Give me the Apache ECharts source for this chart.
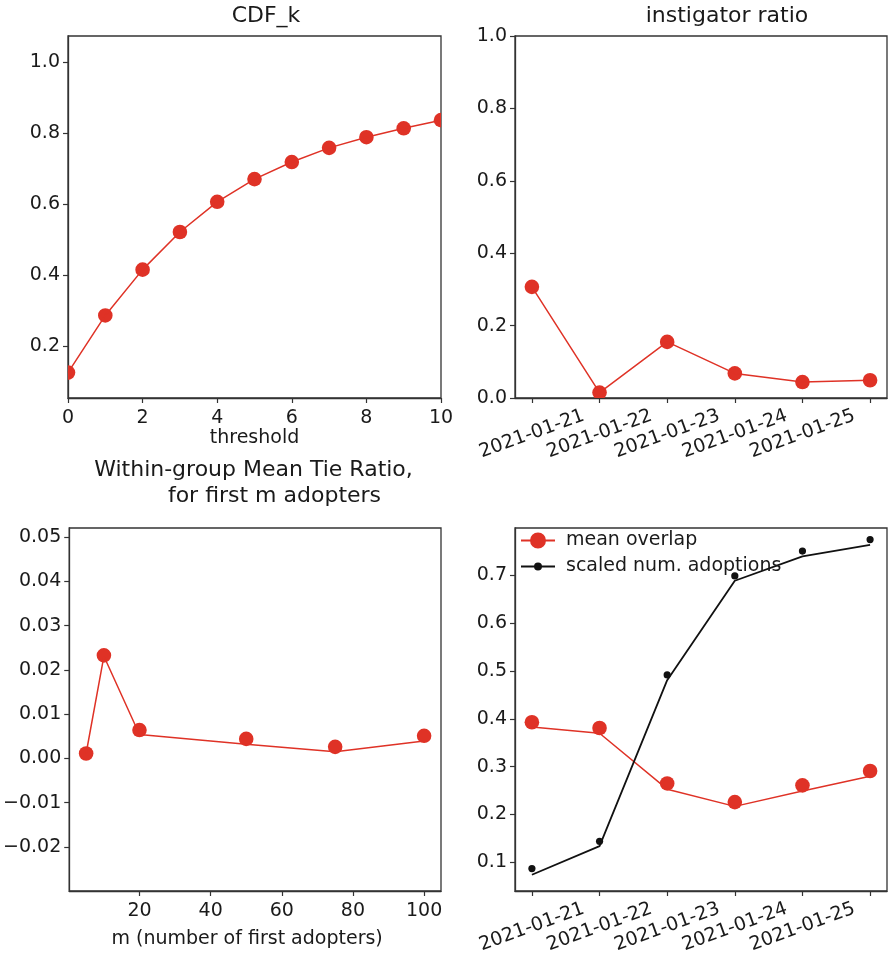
<!DOCTYPE html>
<html>
<head>
<meta charset="utf-8">
<script src="https://cdn.jsdelivr.net/npm/echarts@6/dist/echarts.min.js"></script>
<style>
  html, body { margin: 0; padding: 0; background: #fff; }
  #chart { width: 888px; height: 957px; }
</style>
</head>
<body>
<div id="chart"></div>
<script>
// ---- data ----
const thresholds = [0, 1, 2, 3, 4, 5, 6, 7, 8, 9, 10];
const cdfK = [0.125, 0.286, 0.415, 0.521, 0.606, 0.670, 0.718, 0.758, 0.788, 0.813, 0.836];

const dayIndex = [0, 1, 2, 3, 4, 5];
const dateLabels = ['2021-01-21', '2021-01-22', '2021-01-23', '2021-01-24', '2021-01-25'];
const instigatorRatio = [0.307, 0.015, 0.155, 0.068, 0.044, 0.049];

const firstM = [5, 10, 20, 50, 75, 100];
const tieRatioPoints = [0.0011, 0.0233, 0.0064, 0.0044, 0.0026, 0.0051];
const tieRatioTrend = [0.0011, 0.0231, 0.0054, 0.0032, 0.0015, 0.0039];

const overlapPoints = [0.393, 0.381, 0.265, 0.226, 0.261, 0.291];
const overlapTrend = [0.383, 0.370, 0.253, 0.217, 0.249, 0.280];
const adoptionPoints = [0.087, 0.144, 0.492, 0.699, 0.751, 0.775];
const adoptionTrend = [0.074, 0.134, 0.481, 0.689, 0.740, 0.764];

const cdfTicksY = [0.2, 0.4, 0.6, 0.8, 1.0];
const tieTicksX = [20, 40, 60, 80, 100];
const tieTicksY = [-0.02, -0.01, 0.00, 0.01, 0.02, 0.03, 0.04, 0.05];
const overlapTicksY = [0.1, 0.2, 0.3, 0.4, 0.5, 0.6, 0.7];

// ---- style ----
const RED = '#df3226';
const BLACK = '#111111';
const INK = '#1a1a1a';
const FONT = 'DejaVu Sans';
const TICK_FS = 19;
const TITLE_FS = 22;

const zip = (xs, ys) => xs.map((x, i) => [x, ys[i]]);
const fmt = d => v => {
  const s = Math.abs(v).toFixed(d);
  return v < -1e-9 ? '\u2212' + s : s;
};

const grids = [
  { left: 68, top: 36, width: 373, height: 362 },
  { left: 515, top: 36, width: 372, height: 362 },
  { left: 68, top: 528, width: 373, height: 363 },
  { left: 515, top: 528, width: 372, height: 363 }
].map(g => Object.assign(g, {
  show: true, borderColor: '#333', borderWidth: 1.3, backgroundColor: 'transparent',
  containLabel: false
}));

const tickStyle = { show: true, inside: false, length: 5, lineStyle: { color: '#333', width: 1.2 } };
const axisLineStyle = { show: true, onZero: false, lineStyle: { color: '#333', width: 1.3 } };
const labelBase = { color: INK, fontFamily: FONT, fontSize: TICK_FS };

function xAxisBase(gridIndex, extra) {
  return Object.assign({
    type: 'value', gridIndex, position: 'bottom',
    axisLine: axisLineStyle,
    splitLine: { show: false },
    axisTick: tickStyle,
    axisLabel: Object.assign({ margin: 11 }, labelBase),
    nameTextStyle: { color: INK, fontFamily: FONT, fontSize: TICK_FS }
  }, extra);
}
function yAxisBase(gridIndex, extra) {
  return Object.assign({
    type: 'value', gridIndex, position: 'left',
    axisLine: axisLineStyle,
    splitLine: { show: false },
    axisTick: tickStyle,
    axisLabel: Object.assign({ margin: 8 }, labelBase)
  }, extra);
}

const dateAxisLabel = Object.assign({}, labelBase, {
  customValues: dayIndex.slice(0, dateLabels.length),
  formatter: v => dateLabels[Math.round(v)] || '',
  rotate: 20, align: 'center', verticalAlign: 'middle', margin: 36
});

const xAxes = [
  xAxisBase(0, {
    min: 0, max: 10, interval: 2,
    axisLabel: Object.assign({ margin: 11, formatter: v => String(v) }, labelBase),
    name: 'threshold', nameLocation: 'middle', nameGap: 30
  }),
  xAxisBase(1, {
    min: -0.25, max: 5.25,
    axisTick: Object.assign({}, tickStyle, { customValues: dayIndex }),
    axisLabel: dateAxisLabel
  }),
  xAxisBase(2, {
    min: 0.25, max: 104.75,
    axisTick: Object.assign({}, tickStyle, { customValues: tieTicksX }),
    axisLabel: Object.assign({ margin: 11, customValues: tieTicksX, formatter: v => String(v) }, labelBase),
    name: 'm (number of first adopters)', nameLocation: 'middle', nameGap: 39,
    nameTextStyle: { color: INK, fontFamily: FONT, fontSize: TICK_FS, padding: [0, 16, 0, 0] }
  }),
  xAxisBase(3, {
    min: -0.25, max: 5.25,
    axisTick: Object.assign({}, tickStyle, { customValues: dayIndex }),
    axisLabel: dateAxisLabel
  })
];

const yAxes = [
  yAxisBase(0, {
    min: 0.0535, max: 1.073,
    axisTick: Object.assign({}, tickStyle, { customValues: cdfTicksY }),
    axisLabel: Object.assign({ margin: 8, customValues: cdfTicksY, formatter: fmt(1) }, labelBase)
  }),
  yAxisBase(1, {
    min: 0, max: 1, interval: 0.2,
    axisLabel: Object.assign({ margin: 8, formatter: fmt(1) }, labelBase)
  }),
  yAxisBase(2, {
    min: -0.030, max: 0.0521,
    axisTick: Object.assign({}, tickStyle, { customValues: tieTicksY }),
    axisLabel: Object.assign({ margin: 8, customValues: tieTicksY, formatter: fmt(2) }, labelBase)
  }),
  yAxisBase(3, {
    min: 0.04, max: 0.7993,
    axisTick: Object.assign({}, tickStyle, { customValues: overlapTicksY }),
    axisLabel: Object.assign({ margin: 8, customValues: overlapTicksY, formatter: fmt(1) }, labelBase)
  })
];

function lineSeries(idx, data, color, width, name) {
  return {
    type: 'line', name, xAxisIndex: idx, yAxisIndex: idx, data,
    symbol: 'none', showSymbol: false, clip: true, silent: true,
    lineStyle: { color, width }, itemStyle: { color }
  };
}
// round markers, clipped to the plotting area
function markerSeries(idx, data, r, color) {
  return {
    type: 'custom', xAxisIndex: idx, yAxisIndex: idx, data, clip: true, silent: true,
    encode: { x: 0, y: 1 },
    renderItem(params, api) {
      const p = api.coord([api.value(0), api.value(1)]);
      return { type: 'circle', shape: { cx: p[0], cy: p[1], r }, style: { fill: color } };
    }
  };
}

const series = [
  lineSeries(0, zip(thresholds, cdfK), RED, 1.5),
  markerSeries(0, zip(thresholds, cdfK), 7.3, RED),

  lineSeries(1, zip(dayIndex, instigatorRatio), RED, 1.5),
  markerSeries(1, zip(dayIndex, instigatorRatio), 7.3, RED),

  lineSeries(2, zip(firstM, tieRatioTrend), RED, 1.5),
  markerSeries(2, zip(firstM, tieRatioPoints), 7.3, RED),

  lineSeries(3, zip(dayIndex, overlapTrend), RED, 1.5, 'mean overlap'),
  markerSeries(3, zip(dayIndex, overlapPoints), 7.3, RED),
  lineSeries(3, zip(dayIndex, adoptionTrend), BLACK, 1.8, 'scaled num. adoptions'),
  markerSeries(3, zip(dayIndex, adoptionPoints), 3.6, BLACK)
];

// legend glyphs: a line with a marker on it, inside a 46 x 16 box
const BOX = 'M0,0L0.01,0Z M46,16L45.99,16Z ';
const ICON_OVERLAP = 'path://' + BOX + 'M6,7H40V9H6Z M15,8A8,8,0,1,1,31,8A8,8,0,1,1,15,8Z';
const ICON_ADOPTION = 'path://' + BOX + 'M6,7H40V9H6Z M19,8A4,4,0,1,1,27,8A4,4,0,1,1,19,8Z';

const titleStyle = { color: INK, fontFamily: FONT, fontSize: TITLE_FS, fontWeight: 'normal', lineHeight: 26 };

const option = {
  animation: false,
  backgroundColor: '#ffffff',
  textStyle: { fontFamily: FONT },
  title: [
    { text: 'CDF_k', left: 266, top: 16, textAlign: 'center', textVerticalAlign: 'middle', padding: 0, textStyle: titleStyle },
    { text: 'instigator ratio', left: 727, top: 16, textAlign: 'center', textVerticalAlign: 'middle', padding: 0, textStyle: titleStyle },
    { text: 'Within-group Mean Tie Ratio,\n      for first m adopters', left: 253.5, top: 483.7, textAlign: 'center', textVerticalAlign: 'middle', padding: 0, textStyle: titleStyle }
  ],
  legend: {
    orient: 'vertical', left: 515, top: 531, padding: 0,
    itemWidth: 46, itemHeight: 16, itemGap: 7, selectedMode: false,
    symbolKeepAspect: true,
    textStyle: { color: INK, fontFamily: FONT, fontSize: TICK_FS },
    itemStyle: { borderWidth: 0 },
    data: [
      { name: 'mean overlap', icon: ICON_OVERLAP },
      { name: 'scaled num. adoptions', icon: ICON_ADOPTION }
    ]
  },
  grid: grids,
  xAxis: xAxes,
  yAxis: yAxes,
  series
};

const chart = echarts.init(document.getElementById('chart'), null, { renderer: 'canvas' });
chart.setOption(option);
</script>
</body>
</html>
